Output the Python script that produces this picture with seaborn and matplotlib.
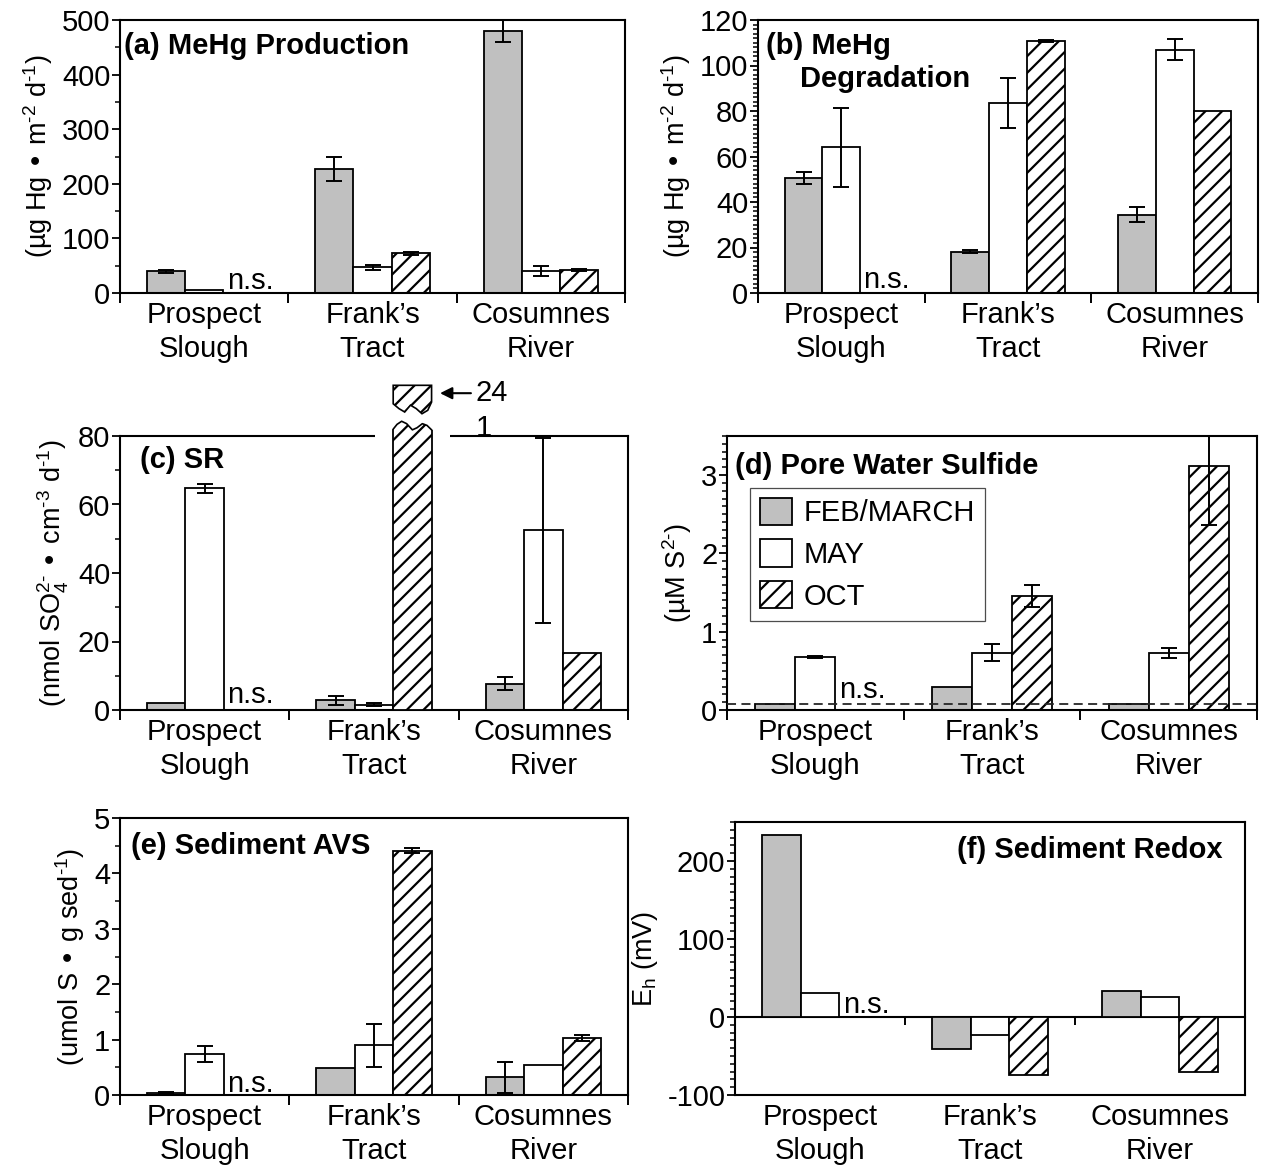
import numpy as np
import pandas as pd
import matplotlib
matplotlib.use("Agg")
import matplotlib.pyplot as plt
import seaborn as sns
from matplotlib.patches import Patch, Polygon, Rectangle
from matplotlib.ticker import MultipleLocator
import matplotlib.transforms as mtransforms

# ---------------- data ----------------
sites = ["Prospect\nSlough", "Frank\u2019s\nTract", "Cosumnes\nRiver"]
months = ["FEB/MARCH", "MAY", "OCT"]
nan = np.nan

# (a) MeHg production
prod_val = {"FEB/MARCH": [40, 227, 480], "MAY": [6, 47, 40], "OCT": [nan, 73, 42]}
prod_err = {"FEB/MARCH": [3, 22, 20], "MAY": [nan, 5, 9], "OCT": [nan, 3, 1.5]}
# (b) MeHg degradation
degr_val = {"FEB/MARCH": [50.5, 18.2, 34.5], "MAY": [64, 83.5, 107], "OCT": [nan, 110.8, 80]}
degr_err = {"FEB/MARCH": [2.8, 0.6, 3.5], "MAY": [17.5, 11, 4.5], "OCT": [nan, 0.6, nan]}
# (c) sulfate reduction
sr_val = {"FEB/MARCH": [2.0, 2.8, 7.7], "MAY": [64.8, 1.5, 52.5], "OCT": [nan, 241, 16.7]}
sr_err = {"FEB/MARCH": [nan, 1.4, 1.8], "MAY": [1.3, 0.4, 27], "OCT": [nan, nan, nan]}
# (d) pore water sulfide
sulf_val = {"FEB/MARCH": [0.08, 0.30, 0.08], "MAY": [0.68, 0.73, 0.73], "OCT": [nan, 1.46, 3.12]}
sulf_err = {"FEB/MARCH": [nan, nan, nan], "MAY": [0.01, 0.11, 0.06], "OCT": [nan, 0.14, 0.76]}
sulf_detection_limit = 0.075
# (e) sediment AVS
avs_val = {"FEB/MARCH": [0.03, 0.49, 0.32], "MAY": [0.74, 0.90, 0.54], "OCT": [nan, 4.41, 1.03]}
avs_err = {"FEB/MARCH": [0.02, nan, 0.28], "MAY": [0.15, 0.39, nan], "OCT": [nan, 0.05, 0.06]}
# (f) sediment redox
eh_val = {"FEB/MARCH": [233, -41, 33], "MAY": [31, -23, 26], "OCT": [nan, -74, -70]}

palette = {"FEB/MARCH": "#c0c0c0", "MAY": "#ffffff", "OCT": "#ffffff"}
hatches = {"FEB/MARCH": "", "MAY": "", "OCT": "//"}

# ---------------- style ----------------
sns.set_theme(style="ticks")
plt.rcParams["font.family"] = ["Liberation Sans", "DejaVu Sans"]
plt.rcParams["mathtext.default"] = "regular"
plt.rcParams["axes.unicode_minus"] = False
plt.rcParams["axes.edgecolor"] = "black"
plt.rcParams["axes.labelcolor"] = "black"
plt.rcParams["text.color"] = "black"
plt.rcParams["axes.linewidth"] = 1.5
plt.rcParams["xtick.color"] = "black"
plt.rcParams["ytick.color"] = "black"
plt.rcParams["xtick.labelcolor"] = "black"
plt.rcParams["ytick.labelcolor"] = "black"
plt.rcParams["hatch.linewidth"] = 1.6
plt.rcParams["hatch.color"] = "black"

FS = 21          # tick / category / legend / n.s. text
FS_T = 21        # bold panel titles
FS_Y = 19.5      # y-axis labels
BAR_W = 0.68
STEP = BAR_W / 3
HY = "\u2010"    # plain hyphen for superscripts

W, H = 1262, 1169
fig = plt.figure(figsize=(W / 100, H / 100), dpi=100)


def add_ax(left, top, right, bottom):
    return fig.add_axes([left / W, 1 - bottom / H, (right - left) / W, (bottom - top) / H])


def to_frame(vals):
    rows = []
    for m in months:
        for s, v in zip(sites, vals[m]):
            rows.append((s, m, v))
    return pd.DataFrame(rows, columns=["site", "month", "value"])


def panel(ax, vals, errs, ylim, major, minor, ylabel, ns_y, zero_axis=False):
    df = to_frame(vals)
    sns.barplot(data=df, x="site", y="value", hue="month", order=sites, hue_order=months,
                palette=palette, saturation=1, edgecolor="black", linewidth=1.3,
                width=BAR_W, errorbar=None, legend=False, ax=ax, zorder=2)
    bars = {}
    for bar in list(ax.patches):
        xc = bar.get_x() + bar.get_width() / 2
        ci = int(round(xc))
        hi = int(round((xc - ci) / STEP)) + 1
        m = months[hi]
        bars[(ci, hi)] = bar
        bar.set_hatch(hatches[m])
        if errs is not None:
            e = errs[m][ci]
            if not np.isnan(e):
                ax.errorbar(xc, vals[m][ci], yerr=e, fmt="none", ecolor="black",
                            elinewidth=1.4, capsize=6, capthick=1.4, zorder=5)
    ax.set_xlim(-0.5, 2.5)
    ax.set_ylim(*ylim)
    ax.yaxis.set_major_locator(MultipleLocator(major))
    ax.yaxis.set_minor_locator(MultipleLocator(minor))
    ax.tick_params(axis="y", which="major", length=6, width=1.3, direction="out",
                   labelsize=FS, pad=1)
    ax.tick_params(axis="y", which="minor", length=3.5, width=1.1, direction="out")
    if zero_axis:
        ax.set_xticks([])
    else:
        ax.set_xticks([-0.5, 0.5, 1.5, 2.5], labels=["", "", "", ""])
    ax.set_xticks([0, 1, 2], labels=sites, minor=True)
    ax.tick_params(axis="x", which="major", length=7, width=1.4, direction="out")
    ax.tick_params(axis="x", which="minor", length=0, labelsize=FS, pad=6)
    for lbl in ax.get_xticklabels(minor=True):
        lbl.set_linespacing(1.25)
    ax.set_xlabel("")
    ax.set_ylabel(ylabel, fontsize=FS_Y, labelpad=5)
    ax.text(0 + STEP / 2 + 0.02, ns_y, "n.s.", fontsize=FS, ha="left", va="baseline", zorder=6)
    for sp in ax.spines.values():
        sp.set_linewidth(1.5)
        sp.set_color("black")
    return bars


def title(ax, x, y, s, ha="left"):
    ax.text(x, y, s, transform=ax.transAxes, ha=ha, va="top", fontsize=FS_T,
            fontweight="bold", zorder=7)


unit_mehg = "(\u00b5g Hg \u2022 m$^{" + HY + "2}$ d$^{" + HY + "1}$)"

# (a)
axa = add_ax(120, 20, 625, 293)
panel(axa, prod_val, prod_err, (0, 500), 100, 50, unit_mehg, 7)
title(axa, 0.008, 0.955, "(a) MeHg Production")

# (b)
axb = add_ax(758, 20, 1258, 293)
panel(axb, degr_val, degr_err, (0, 120), 20, 2, unit_mehg, 2)
title(axb, 0.016, 0.955, "(b) MeHg")
title(axb, 0.085, 0.835, "Degradation")

# (c)
axc = add_ax(120, 436, 628, 710)
bars_c = panel(axc, sr_val, sr_err, (0, 80), 20, 10,
               "(nmol SO$_4^{2" + HY + "}$ \u2022 cm$^{" + HY + "3}$ d$^{" + HY + "1}$)", 2)
title(axc, 0.04, 0.965, "(c) SR")

# broken bar for Frank's Tract OCT
big = bars_c[(1, 2)]
x0 = big.get_x()
bw = big.get_width()
x1 = x0 + bw
ytop = axc.get_ylim()[1]
u = ytop / 80.0
wave_low = [(0.0, 2.0), (0.1, 3.4), (0.22, 4.3), (0.35, 3.6), (0.5, 1.8),
            (0.62, 2.4), (0.76, 3.6), (0.88, 3.1), (1.0, 1.8)]
clip_pts = [(x0 - 0.05, -10 * u)] + [(x0 - 0.05, ytop + wave_low[0][1] * u)]
clip_pts += [(x0 + f * bw, ytop + d * u) for f, d in wave_low]
clip_pts += [(x1 + 0.05, ytop + wave_low[-1][1] * u), (x1 + 0.05, -10 * u)]
clip_poly = Polygon(clip_pts, closed=True, transform=axc.transData)
big.set_clip_box(None)
big.set_clip_path(clip_poly)
big.set_zorder(4)
axc.plot([x0 + f * bw for f, d in wave_low], [ytop + d * u for f, d in wave_low],
         color="black", lw=1.2, clip_on=False, zorder=5)
# gap in the top spine around the break
gap = Rectangle((x0 - 0.11, 0.98), bw + 0.22, 0.04, facecolor="white", edgecolor="none",
                transform=mtransforms.blended_transform_factory(axc.transData, axc.transAxes),
                clip_on=False, zorder=3)
axc.add_patch(gap)
# detached top of the bar
wave_up = [(1.0, 9.9), (0.9, 7.5), (0.75, 6.5), (0.6, 8.0), (0.45, 9.0),
           (0.3, 7.0), (0.15, 8.0), (0.0, 9.4)]
up_pts = [(x0, ytop + 14.8 * u), (x1, ytop + 14.8 * u)]
up_pts += [(x0 + f * bw, ytop + d * u) for f, d in wave_up]
top_piece = Polygon(up_pts, closed=True, facecolor="white", edgecolor="black", lw=1.2,
                    hatch="//", clip_on=False, zorder=5)
axc.add_patch(top_piece)
axc.annotate("24", xy=(x1 + 0.05, ytop + 12.5 * u), xytext=(x1 + 0.26, ytop + 12.5 * u),
             fontsize=FS, ha="left", va="center", annotation_clip=False,
             arrowprops=dict(arrowstyle="-|>", color="black", lw=1.5, mutation_scale=18,
                             shrinkA=1, shrinkB=0, relpos=(0, 0.5)))
axc.text(x1 + 0.26, ytop, "1", fontsize=FS, ha="left", va="baseline", clip_on=False)

# (d)
axd = add_ax(727, 436, 1257, 710)
panel(axd, sulf_val, sulf_err, (0, 3.5), 1, 0.1, "(\u00b5M S$^{2" + HY + "}$)", 0.15)
axd.axhline(sulf_detection_limit, color="0.15", lw=1.3, ls=(0, (5, 3)), zorder=6)
title(axd, 0.016, 0.94, "(d) Pore Water Sulfide")
handles = [Patch(facecolor=palette[m], edgecolor="black", hatch=hatches[m], lw=1.3, label=m)
           for m in months]
leg = axd.legend(handles=handles, loc="upper left", bbox_to_anchor=(0.043, 0.812),
                 fontsize=FS, frameon=True, fancybox=False, framealpha=1,
                 edgecolor="0.3", handlelength=1.1, handleheight=1.05,
                 labelspacing=0.42, borderpad=0.35, handletextpad=0.4, borderaxespad=0)
leg.get_frame().set_linewidth(0.9)

# (e)
axe = add_ax(120, 818, 628, 1095)
panel(axe, avs_val, avs_err, (0, 5), 1, 0.5, "(umol S \u2022 g sed$^{" + HY + "1}$)", 0.05)
title(axe, 0.022, 0.95, "(e) Sediment AVS")

# (f)
axf = add_ax(735, 822, 1245, 1095)
panel(axf, eh_val, None, (-100, 250), 100, 10, "E$_{h}$ (mV)", 5, zero_axis=True)
title(axf, 0.957, 0.947, "(f) Sediment Redox", ha="right")
ylo, yhi = axf.get_ylim()
sec = axf.secondary_xaxis((0 - ylo) / (yhi - ylo))
sec.set_xticks([0.5, 1.5], labels=["", ""])
sec.tick_params(axis="x", length=6, width=1.4, direction="out")
sec.spines["bottom"].set_linewidth(1.5)
sec.spines["bottom"].set_color("black")
sec.spines["top"].set_visible(False)

fig.savefig("out.png", dpi=100)
